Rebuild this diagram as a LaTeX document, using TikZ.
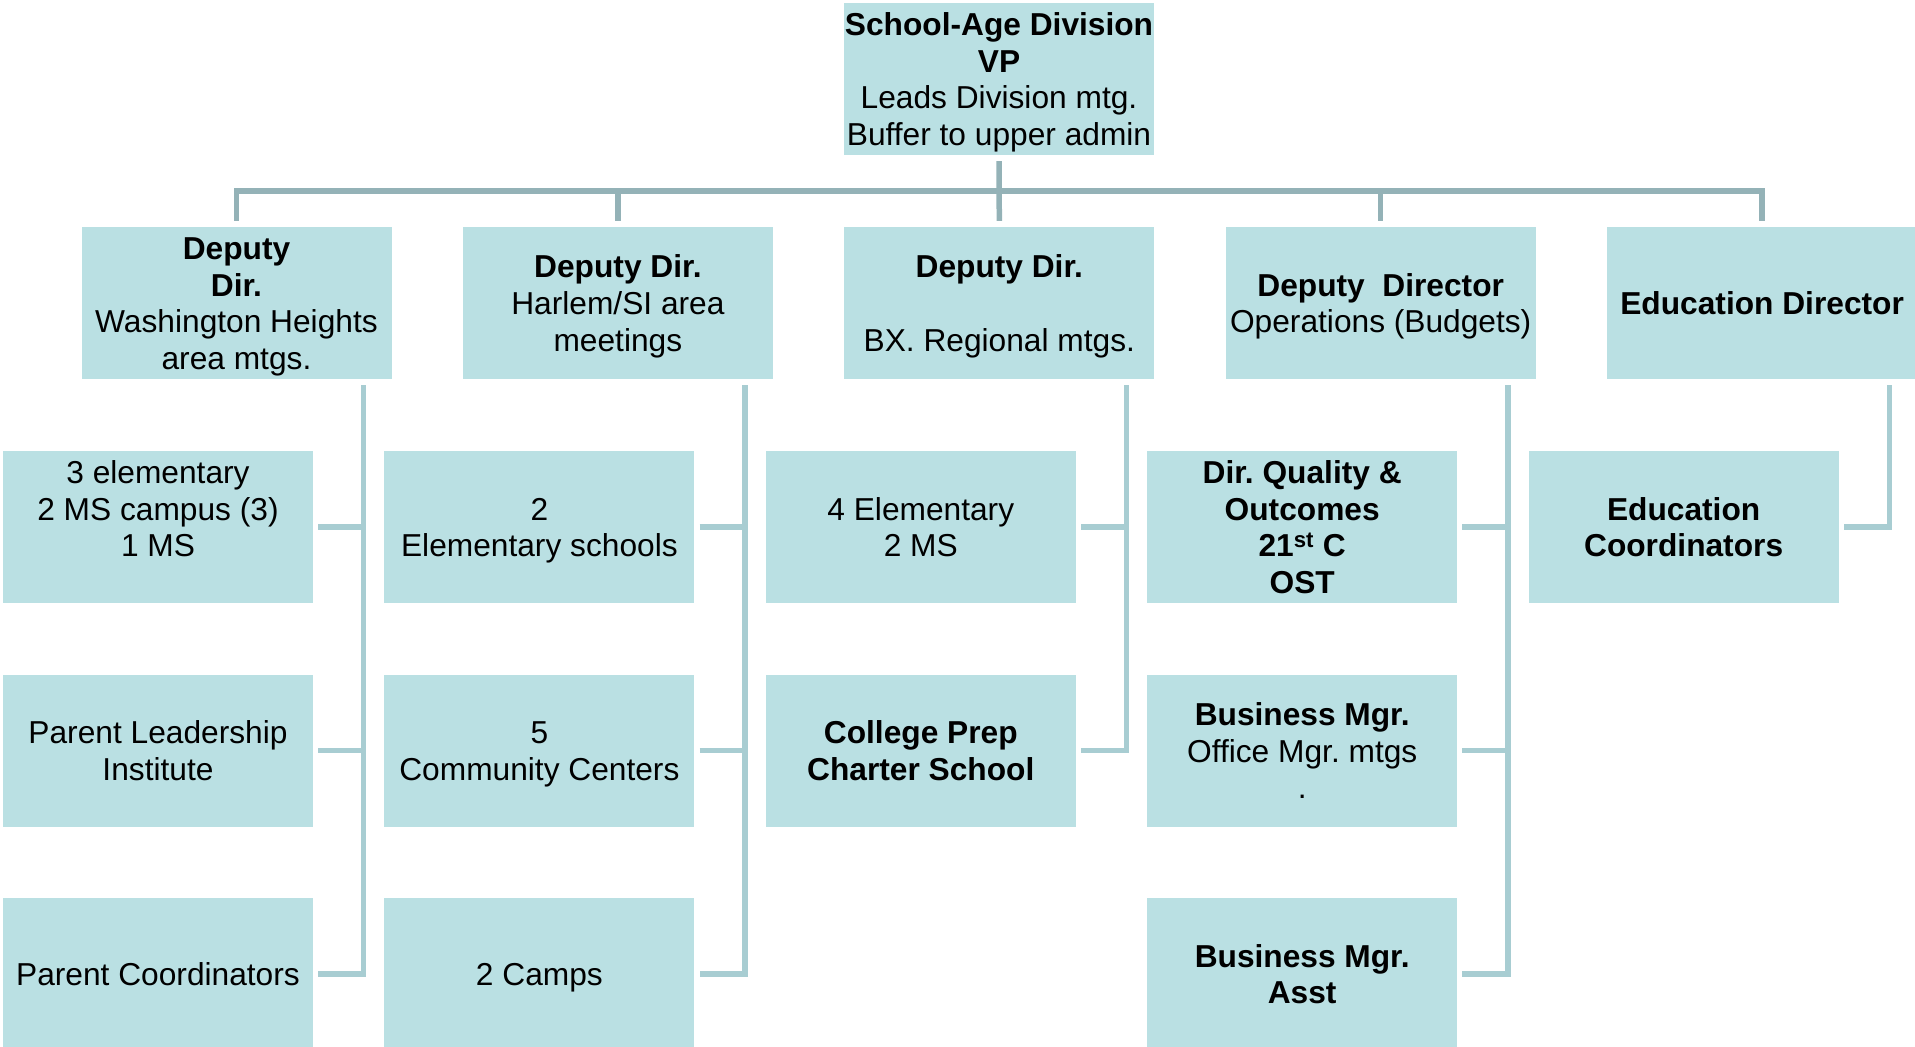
\documentclass[tikz,border=0pt]{standalone}
\usepackage{fontspec}
\setmainfont{Liberation Sans}
\frenchspacing
\definecolor{boxfill}{RGB}{186,224,227}
\definecolor{barcol}{RGB}{148,178,183}
\definecolor{conncol}{RGB}{168,205,210}
\newcommand\myln[1]{\raisebox{0pt}[23pt][0pt]{#1}}
\begin{document}
\begin{tikzpicture}[x=1pt,y=1pt,
  orgbox/.style={fill=boxfill, draw=none, minimum width=310pt, minimum height=152pt,
    inner sep=0pt, align=center, font=\fontsize{31.7}{36.7}\selectfont\frenchspacing},
  topbar/.style={draw=barcol, line width=5.5pt},
  conn/.style={draw=conncol, line width=5.5pt}]
\useasboundingbox (0,0) rectangle (1915,-1047);
% top
\node[orgbox] (vp) at (999,-79) {\myln{\textbf{School-Age Division}}\\\myln{\textbf{VP}}\\\myln{Leads Division mtg.}\\\myln{Buffer to upper admin}};
% deputies
\node[orgbox] (d1) at (236.5,-303) {\myln{\textbf{Deputy}}\\\myln{\textbf{Dir.}}\\\myln{Washington Heights}\\\myln{area mtgs.}};
\node[orgbox] (d2) at (617.9,-303) {\myln{\textbf{Deputy Dir.}}\\\myln{Harlem/SI area}\\\myln{meetings}};
\node[orgbox] (d3) at (999.3,-303) {\myln{\textbf{Deputy Dir.}}\\\myln{~}\\\myln{BX. Regional mtgs.}};
\node[orgbox] (d4) at (1380.7,-303) {\myln{\textbf{Deputy\ \ Director}}\\\myln{Operations (Budgets)}};
\node[orgbox] (d5) at (1762.1,-303) {\myln{\textbf{Education Director}}};
% children
\node[orgbox] (c11) at (158,-527) {\myln{3 elementary}\\\myln{2 MS campus (3)}\\\myln{1 MS}\\\myln{~}};
\node[orgbox] (c12) at (158,-750.5) {\myln{Parent Leadership}\\\myln{Institute}};
\node[orgbox] (c13) at (158,-974) {\myln{Parent Coordinators}};
\node[orgbox] (c21) at (539.4,-527) {\myln{2}\\\myln{Elementary schools}};
\node[orgbox] (c22) at (539.4,-750.5) {\myln{5}\\\myln{Community Centers}};
\node[orgbox] (c23) at (539.4,-974) {\myln{2 Camps}};
\node[orgbox] (c31) at (920.8,-527) {\myln{4 Elementary}\\\myln{2 MS}};
\node[orgbox] (c32) at (920.8,-750.5) {\myln{\textbf{College Prep}}\\\myln{\textbf{Charter School}}};
\node[orgbox] (c41) at (1302.2,-527) {\myln{\textbf{Dir. Quality \&}}\\\myln{\textbf{Outcomes}}\\\myln{\textbf{21\textsuperscript{st} C}}\\\myln{\textbf{OST}}};
\node[orgbox] (c42) at (1302.2,-750.5) {\myln{\textbf{Business Mgr.}}\\\myln{Office Mgr. mtgs}\\\myln{.}};
\node[orgbox] (c43) at (1302.2,-974) {\myln{\textbf{Business Mgr.}}\\\myln{\textbf{Asst}}};
\node[orgbox] (c51) at (1683.6,-527) {\myln{\textbf{Education}}\\\myln{\textbf{Coordinators}}};
% top bar
\foreach \i in {1,...,5} {\coordinate (b\i) at ([yshift=6pt]d\i.north);}
\draw[topbar] (b1) -- ++(0,30) -| (b5);
\draw[topbar] ([yshift=-6pt]vp.south) -- (b3);
\draw[topbar] (b2) -- ++(0,30);
\draw[topbar] (b4) -- ++(0,30);
% spines
\foreach \i in {1,...,5} {\coordinate (s\i) at ([xshift=-28pt,yshift=-6pt]d\i.south east);}
\draw[conn] (s1) |- ([xshift=5pt]c13.east);
\draw[conn] ([xshift=5pt]c11.east) -- (c11.east -| s1);
\draw[conn] ([xshift=5pt]c12.east) -- (c12.east -| s1);
\draw[conn] (s2) |- ([xshift=5pt]c23.east);
\draw[conn] ([xshift=5pt]c21.east) -- (c21.east -| s2);
\draw[conn] ([xshift=5pt]c22.east) -- (c22.east -| s2);
\draw[conn] (s3) |- ([xshift=5pt]c32.east);
\draw[conn] ([xshift=5pt]c31.east) -- (c31.east -| s3);
\draw[conn] (s4) |- ([xshift=5pt]c43.east);
\draw[conn] ([xshift=5pt]c41.east) -- (c41.east -| s4);
\draw[conn] ([xshift=5pt]c42.east) -- (c42.east -| s4);
\draw[conn] (s5) |- ([xshift=5pt]c51.east);
\end{tikzpicture}
\end{document}
